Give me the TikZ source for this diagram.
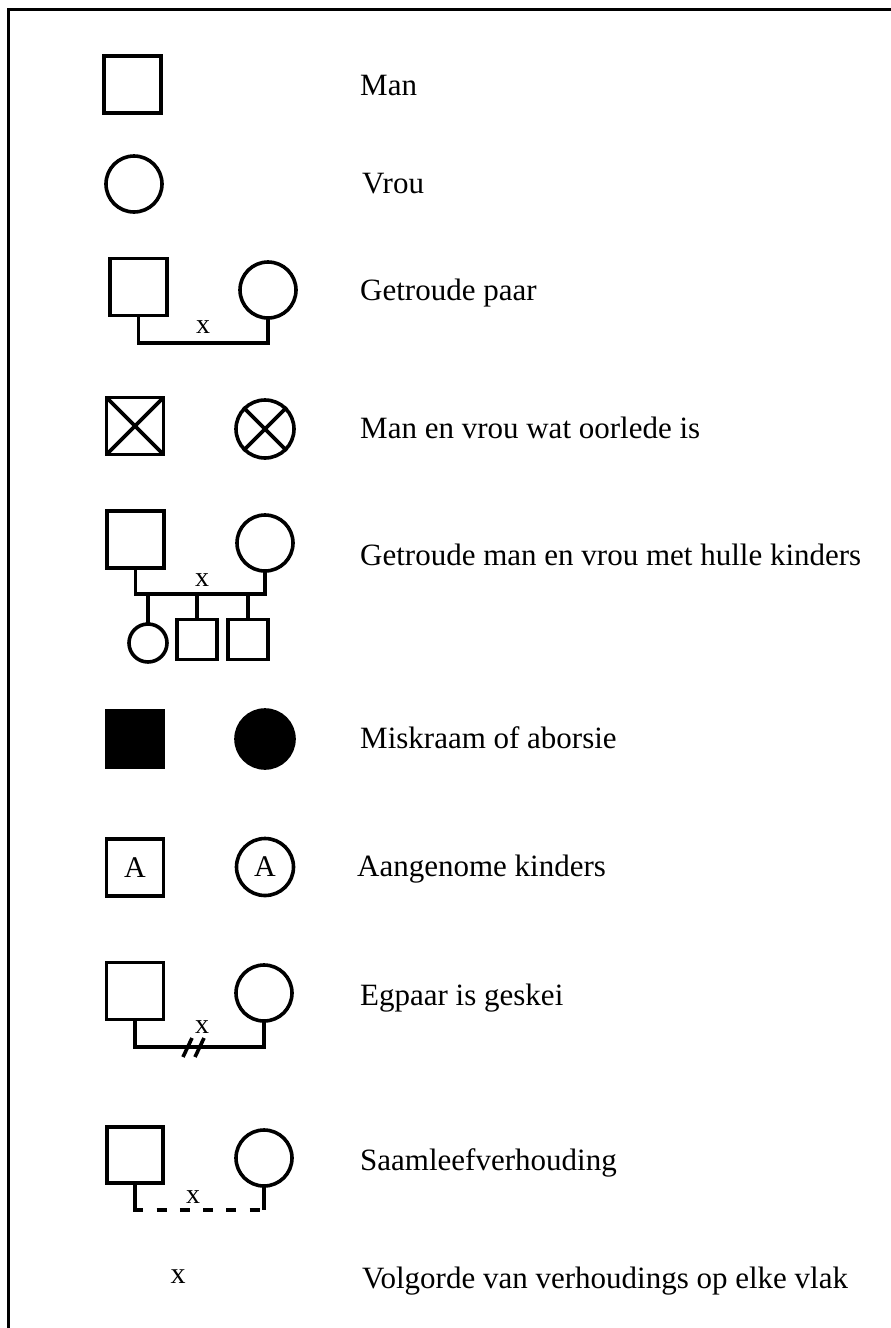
\documentclass[tikz,border=0pt]{standalone}
\usepackage{fontspec}
\setmainfont{Liberation Serif}
\begin{document}
\begin{tikzpicture}[x=1pt,y=-1pt,
  sym/.style={draw,line width=3.6pt,inner sep=0pt,outer sep=0pt},
  sqr/.style={sym,rectangle,minimum size=#1},
  sqr/.default=57pt,
  circ/.style={sym,circle,minimum size=#1},
  circ/.default=56pt,
  conn/.style={line width=3.6pt,line cap=rect},
  lbl/.style={anchor=base west,inner sep=0pt,font=\fontsize{31}{36}\selectfont},
  xlbl/.style={inner sep=0pt,font=\fontsize{28}{32}\selectfont},
  frame/.style={line width=3pt}]
\useasboundingbox (0,0) rectangle (891,1328);
\draw[frame] (8,1328) -- (8,9) -- (891,9);

% Row 1
\node[sqr] (s1) at (132.5,84.5) {};
\node[lbl] (t1) at (360,95) {Man};
% Row 2
\node[circ] (c2) at (134,184) {};
\node[lbl] (t2) at (362,193) {Vrou};
% Row 3
\node[sqr] (s3) at (138.5,287) {};
\node[circ] (c3) at (268,290) {};
\coordinate (m3) at (200,343);
\draw[conn] (s3.south) -- (s3.south |- m3) -| (c3.south);
\node[xlbl] (x3) at (203,327) {x};
\node[lbl] (t3) at (360,300) {Getroude paar};
% Row 4
\node[sqr,path picture={\draw[line width=3.6pt] (path picture bounding box.north west) -- (path picture bounding box.south east) (path picture bounding box.north east) -- (path picture bounding box.south west);}] (s4) at (135,426) {};
\node[circ=58pt] (c4) at (265,429) {};
\draw[conn] (c4.north west) -- (c4.south east) (c4.north east) -- (c4.south west);
\node[lbl] (t4) at (360,438) {Man en vrou wat oorlede is};
% Row 5
\node[sqr] (s5) at (135.5,539.5) {};
\node[circ] (c5) at (265,543) {};
\coordinate (m5) at (200,594);
\draw[conn] (s5.south) -- (s5.south |- m5) -| (c5.south);
\node[circ=38pt] (k1) at (148,643) {};
\node[sqr=40pt] (k2) at (197,639.5) {};
\node[sqr=40pt] (k3) at (248,639.5) {};
\draw[conn] (k1.north |- m5) -- (k1.north);
\draw[conn] (k2.north |- m5) -- (k2.north);
\draw[conn] (k3.north |- m5) -- (k3.north);
\node[xlbl] (x5) at (202,580) {x};
\node[lbl] (t5) at (360,565) {Getroude man en vrou met hulle kinders};
% Row 6
\node[sqr,fill=black] (s6) at (135,739) {};
\node[circ=58pt,fill=black] (c6) at (265,739) {};
\node[lbl] (t6) at (360,748) {Miskraam of aborsie};
% Row 7
\node[sqr,font=\fontsize{30}{34}\selectfont] (s7) at (135,867.5) {A};
\node[circ=57pt,font=\fontsize{30}{34}\selectfont] (c7) at (265,867) {A};
\node[lbl] (t7) at (357,876) {Aangenome kinders};
% Row 8
\node[sqr] (s8) at (135,991) {};
\node[circ] (c8) at (264,993) {};
\coordinate (m8) at (200,1047);
\draw[conn] (s8.south) -- (s8.south |- m8) -| (c8.south);
\draw[line width=3.6pt] (183,1057) -- (192,1038) (195,1057) -- (204,1038);
\node[xlbl] (x8) at (202,1027) {x};
\node[lbl] (t8) at (360,1005) {Egpaar is geskei};
% Row 9
\node[sqr=56pt] (s9) at (135,1155) {};
\node[circ] (c9) at (264,1158) {};
\coordinate (m9) at (200,1210);
\draw[conn,line cap=butt] (s9.south) -- (s9.south |- m9);
\draw[conn,line cap=butt] (c9.south) -- (c9.south |- m9);
\draw[line width=3.6pt,dash pattern=on 10pt off 13.3pt] ([xshift=-1.8pt]s9.south |- m9) -- ([xshift=1.8pt]c9.south |- m9);
\node[xlbl] (x9) at (193,1197) {x};
\node[lbl] (t9) at (360,1170) {Saamleefverhouding};
% Row 10
\node[xlbl,font=\fontsize{30}{34}\selectfont] (x10) at (178,1277) {x};
\node[lbl] (t10) at (362,1288) {Volgorde van verhoudings op elke vlak};
\end{tikzpicture}
\end{document}
